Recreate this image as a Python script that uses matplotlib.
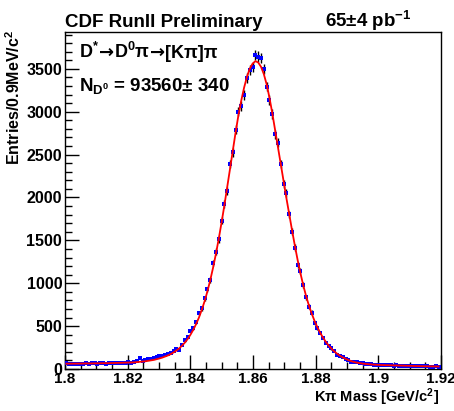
import numpy as np
import matplotlib
matplotlib.use("Agg")
import matplotlib.pyplot as plt
from matplotlib.ticker import MultipleLocator, FormatStrFormatter

plt.rcParams['font.family'] = ['Liberation Sans', 'DejaVu Sans']
plt.rcParams['font.weight'] = 'bold'
plt.rcParams['mathtext.fontset'] = 'custom'
plt.rcParams['mathtext.rm'] = 'Liberation Sans:bold'
plt.rcParams['mathtext.bf'] = 'Liberation Sans:bold'
plt.rcParams['mathtext.it'] = 'Liberation Sans:bold:italic'
plt.rcParams['mathtext.default'] = 'rm'

# histogram: 0.9 MeV bins starting at 1.80 GeV
x_start = 1.80
bin_width = 0.0009

counts = [
    65, 62, 58, 63, 60, 64, 62, 66, 63, 67,
    65, 63, 68, 66, 64, 70, 67, 69, 72, 68,
    74, 71, 76, 73, 78, 95, 125, 93, 105, 113,
    117, 125, 140, 155, 155, 163, 171, 188, 215, 232,
    222, 280, 338, 377, 447, 475, 552, 650, 708, 825,
    930, 1038, 1240, 1369, 1513, 1730, 1925, 2077, 2388, 2528,
    2790, 3002, 3068, 3197, 3391, 3488, 3520, 3663, 3644, 3625,
    3496, 3294, 3139, 2975, 2738, 2641, 2388, 2158, 2050, 1805,
    1602, 1415, 1213, 1143, 980, 837, 727, 657, 533, 475,
    424, 365, 307, 272, 241, 210, 163, 155, 135, 113,
    102, 85, 80, 76, 70, 66, 62, 60, 57, 52,
    50, 47, 48, 45, 44, 42, 40, 41, 38, 37,
    36, 38, 35, 33, 34, 32, 36, 31, 30, 29,
    28, 30, 27,
]

# fitted curve, read at the bin centres
fit = [
    62, 62, 63, 63, 63, 64, 64, 64, 65, 65,
    66, 66, 67, 67, 68, 68, 69, 70, 70, 71,
    72, 73, 74, 75, 77, 80, 83, 86, 90, 95,
    100, 106, 114, 123, 133, 145, 158, 174, 193, 215,
    241, 272, 308, 350, 400, 458, 525, 600, 690, 790,
    905, 1035, 1180, 1340, 1515, 1705, 1905, 2115, 2330, 2545,
    2760, 2960, 3130, 3280, 3405, 3500, 3560, 3590, 3575, 3525,
    3440, 3320, 3165, 2985, 2790, 2590, 2390, 2190, 1995, 1805,
    1620, 1440, 1270, 1115, 975, 850, 740, 645, 560, 487,
    422, 365, 316, 273, 237, 205, 178, 155, 135, 118,
    104, 92, 82, 74, 68, 63, 59, 56, 53, 51,
    49, 47, 46, 45, 44, 43, 42, 41, 40, 39,
    38, 37, 36, 35, 34.5, 34, 33, 32.5, 32, 31,
    30.5, 30, 29.5,
]

counts = np.array(counts, dtype=float)
centers = x_start + bin_width * (np.arange(len(counts)) + 0.5)

fig = plt.figure(figsize=(4.54, 4.11), dpi=100)
ax = fig.add_axes([65 / 454, 1 - 369 / 411, 376 / 454, 337 / 411])

# datos con errores
ax.errorbar(centers, counts, yerr=np.sqrt(counts), fmt='none',
            ecolor='black', elinewidth=1.0, capsize=0, zorder=2)
ax.plot(centers, counts, 's', color='blue', markersize=3,
        markeredgewidth=0, zorder=3)
# ajuste
ax.plot(centers, fit, '-', color='red', lw=1.3, zorder=4)

ax.set_xlim(1.8, 1.92)
ax.set_ylim(0, 3930)
ax.xaxis.set_major_locator(MultipleLocator(0.02))
ax.xaxis.set_minor_locator(MultipleLocator(0.005))
ax.yaxis.set_major_locator(MultipleLocator(500))
ax.yaxis.set_minor_locator(MultipleLocator(100))
ax.xaxis.set_major_formatter(FormatStrFormatter('%g'))
ax.tick_params(which='both', direction='in', top=False, right=False)
ax.tick_params(which='major', length=10, width=1)
ax.tick_params(which='minor', length=5, width=1)
ax.tick_params(axis='x', pad=2, labelsize=11)
ax.tick_params(axis='y', pad=2, labelsize=11.5)
for lab in ax.get_xticklabels() + ax.get_yticklabels():
    lab.set_fontweight('bold')
for s in ax.spines.values():
    s.set_linewidth(1.0)

# textos
fig.text(65 / 454, 1 - 27 / 411, 'CDF RunII Preliminary', fontsize=13.5,
         fontweight='bold', va='baseline', ha='left')
fig.text(325 / 454, 1 - 27 / 411, r'65±4 pb$^{-1}$', fontsize=13.5,
         fontweight='bold', va='baseline', ha='left')

# decay chain written piece by piece so the arrows come from DejaVu Sans
renderer = fig.canvas.get_renderer()
piezas = [('D$^{*}$', 'Liberation Sans'), ('→', 'DejaVu Sans'),
          ('D$^{0}$π', 'Liberation Sans'), ('→', 'DejaVu Sans'),
          ('[Kπ]π', 'Liberation Sans')]
xpos = 79
for txt, fam in piezas:
    t = fig.text(xpos / 454, 1 - 58 / 411, txt, fontsize=13,
                 fontweight='bold', family=fam, va='baseline', ha='left')
    xpos += t.get_window_extent(renderer).width

fig.text(79 / 454, 1 - 91 / 411, r'N$_{\mathrm{D}^{0}}$ = 93560± 340',
         fontsize=13.5, fontweight='bold', va='baseline', ha='left')
fig.text(14 / 454, 1 - 30 / 411, r'Entries/0.9MeV/c$^{2}$', fontsize=11.5,
         fontweight='bold', rotation=90, ha='center', va='top')
fig.text(439 / 454, 1 - 402 / 411, r'Kπ Mass [GeV/c$^{2}$]', fontsize=10.5,
         fontweight='bold', ha='right', va='baseline')

fig.savefig('out.png', dpi=100)
